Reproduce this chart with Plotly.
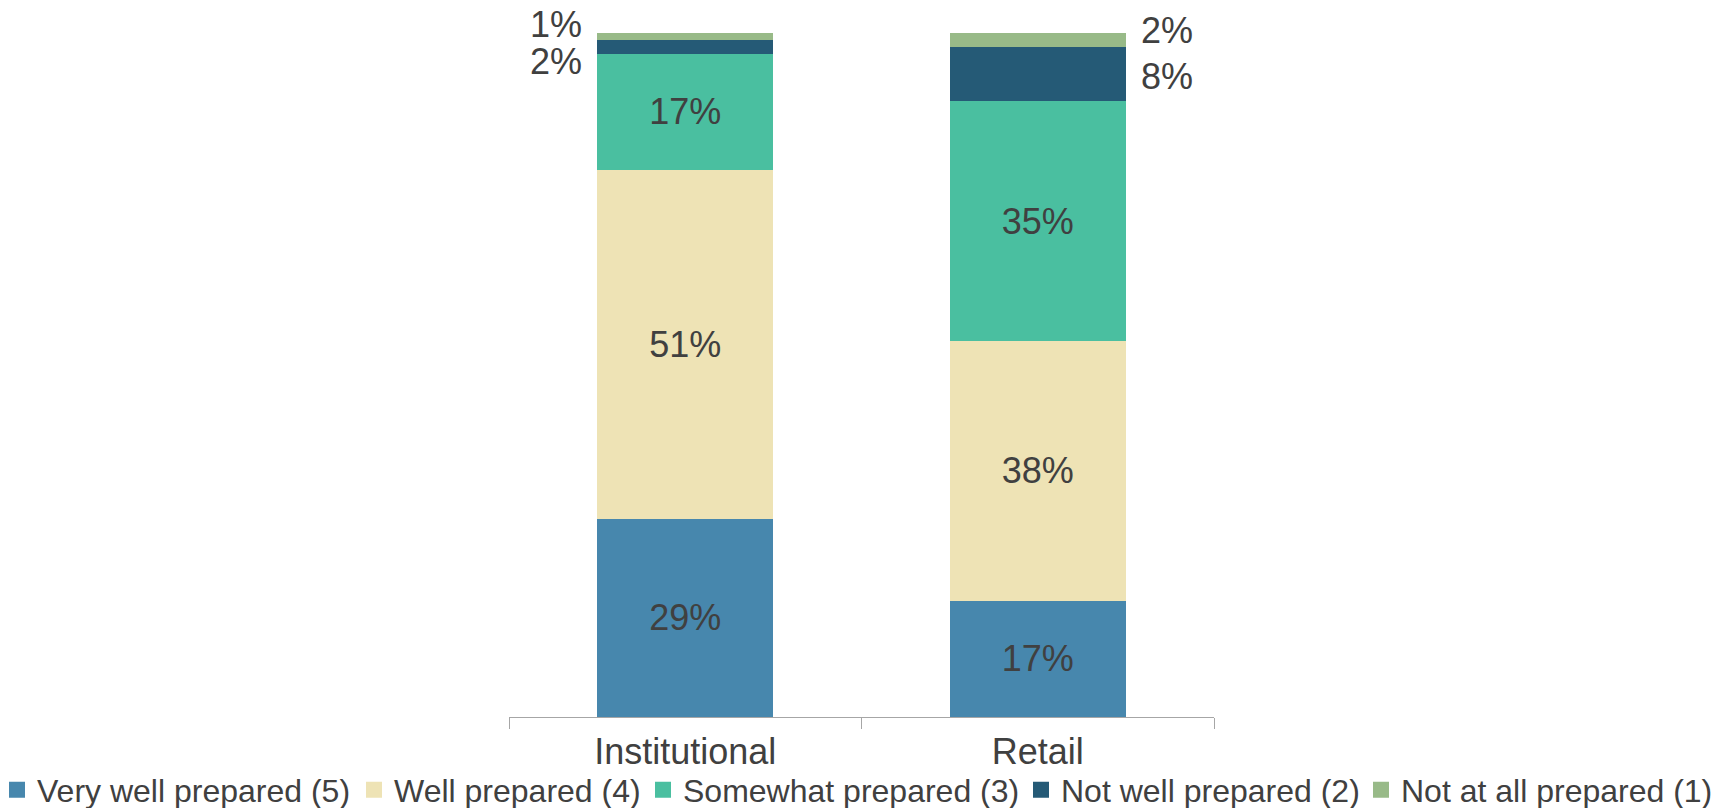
import plotly.graph_objects as go

categories = ["Institutional", "Retail"]
series_names = [
    "Very well prepared (5)",
    "Well prepared (4)",
    "Somewhat prepared (3)",
    "Not well prepared (2)",
    "Not at all prepared (1)",
]
very_well = [29, 17]
well = [51, 38]
somewhat = [17, 35]
not_well = [2, 8]
not_at_all = [1, 2]

series_values = [very_well, well, somewhat, not_well, not_at_all]
colors = ["#4787AD", "#EEE3B5", "#4ABFA0", "#255A76", "#98BA88"]
TEXT = "#404040"
FONT = "Liberation Sans, Arial, sans-serif"

W, H = 1713, 808
PL, PR, PT, PB = 509, 1214, 33, 717  # plot area in pixels
PW, PH = PR - PL, PB - PT

fig = go.Figure()
for name, vals, col in zip(series_names, series_values, colors):
    fig.add_trace(go.Bar(
        x=categories, y=vals, name=name, marker=dict(color=col, line=dict(width=0)),
        text=[f"{v}%" for v in vals],
        textposition=["inside" if v >= 10 else "none" for v in vals],
        insidetextanchor="middle", textangle=0,
        insidetextfont=dict(size=36, color=TEXT, family=FONT),
        showlegend=False, hoverinfo="skip",
    ))

# outside labels for small segments
label_adjust = {  # (category index, series index): (side, yshift)
    (0, 4): ("left", 12),
    (0, 3): ("left", -15),
    (1, 4): ("right", 9),
    (1, 3): ("right", -2),
}
for (ci, si), (side, ys) in label_adjust.items():
    base = sum(series_values[k][ci] for k in range(si))
    mid = base + series_values[si][ci] / 2
    fig.add_annotation(
        x=categories[ci], y=mid, text=f"{series_values[si][ci]}%", showarrow=False,
        xanchor="right" if side == "left" else "left",
        xshift=-101 if side == "left" else 101, yshift=ys,
        font=dict(size=36, color=TEXT, family=FONT),
    )

# legend entries (square markers)
legend_centers = [17, 374, 663, 1041, 1381]
for i, (name, col) in enumerate(zip(series_names, colors)):
    lg = "legend" if i == 0 else f"legend{i+1}"
    fig.add_trace(go.Scatter(
        x=[None], y=[None], mode="markers", name=name,
        marker=dict(symbol="square", size=16, color=col),
        legend=lg, showlegend=True, hoverinfo="skip",
    ))

layout_legends = {}
for i, c in enumerate(legend_centers):
    key = "legend" if i == 0 else f"legend{i+1}"
    layout_legends[key] = dict(
        xref="paper", yref="paper",
        x=(c - 20 - PL) / PW, xanchor="left",
        y=(PB - 790) / PH, yanchor="middle",
        orientation="h", bgcolor="rgba(0,0,0,0)", borderwidth=0,
        font=dict(size=32, color=TEXT, family=FONT),
        itemclick=False, itemdoubleclick=False,
    )

fig.update_layout(
    width=W, height=H,
    margin=dict(l=PL, r=W - PR, t=PT, b=H - PB, pad=0, autoexpand=False),
    barmode="stack", bargap=0.5,
    plot_bgcolor="white", paper_bgcolor="white",
    font=dict(family=FONT, color=TEXT),
    xaxis=dict(
        type="category", categoryorder="array", categoryarray=categories,
        showline=True, linecolor="#A6A6A6", linewidth=1.3,
        ticks="outside", tickson="boundaries", ticklen=11, tickcolor="#A6A6A6", tickwidth=1.3,
        tickfont=dict(size=36, color=TEXT, family=FONT), ticklabelstandoff=3,
        showgrid=False, zeroline=False, fixedrange=True, automargin=False,
    ),
    yaxis=dict(range=[0, 100], visible=False, showgrid=False, zeroline=False, fixedrange=True),
    **layout_legends,
)

fig.write_html("out.html")
